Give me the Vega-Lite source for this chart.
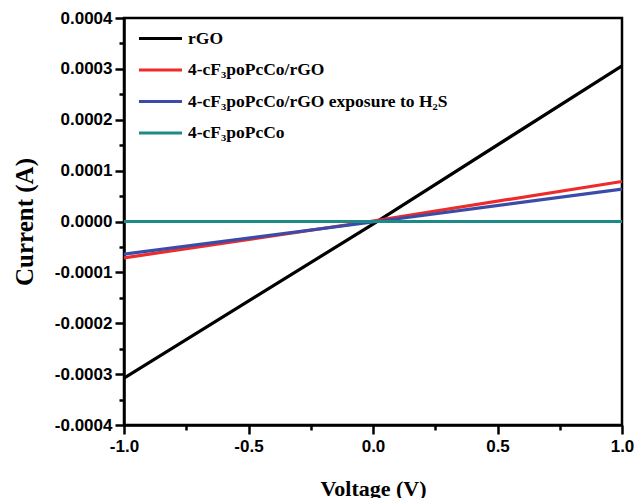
{
  "$schema": "https://vega.github.io/schema/vega-lite/v6.json",
  "width": 498,
  "height": 407,
  "autosize": {"type": "none"},
  "padding": {"left": 124, "top": 18, "right": 14, "bottom": 73},
  "background": "white",
  "config": {
    "view": {"stroke": "black", "strokeWidth": 2.5},
    "axis": {
      "domainColor": "black",
      "domainWidth": 2.5,
      "tickColor": "black",
      "tickWidth": 2.5,
      "grid": false,
      "labelFont": "Liberation Sans",
      "labelFontWeight": "bold",
      "labelFontSize": 17,
      "labelColor": "black",
      "titleFont": "Liberation Serif",
      "titleFontWeight": "bold",
      "titleColor": "black"
    },
    "legend": {
      "labelFont": "Liberation Serif",
      "labelFontWeight": "bold",
      "labelFontSize": 17.5,
      "labelColor": "black"
    }
  },
  "data": {
    "values": [
      {"series": "rGO", "voltage": -1, "current": -0.000308},
      {"series": "rGO", "voltage": 0, "current": -0.000005},
      {"series": "rGO", "voltage": 1, "current": 0.000306},
      {"series": "4-cF₃poPcCo/rGO", "voltage": -1, "current": -0.0000715},
      {"series": "4-cF₃poPcCo/rGO", "voltage": 0, "current": 0.000001},
      {"series": "4-cF₃poPcCo/rGO", "voltage": 1, "current": 0.0000787},
      {"series": "4-cF₃poPcCo/rGO exposure to H₂S", "voltage": -1, "current": -0.000064},
      {"series": "4-cF₃poPcCo/rGO exposure to H₂S", "voltage": 0, "current": -0.000001},
      {"series": "4-cF₃poPcCo/rGO exposure to H₂S", "voltage": 1, "current": 0.0000636},
      {"series": "4-cF₃poPcCo", "voltage": -1, "current": 0},
      {"series": "4-cF₃poPcCo", "voltage": 0, "current": 0},
      {"series": "4-cF₃poPcCo", "voltage": 1, "current": 0}
    ]
  },
  "mark": {"type": "line", "strokeWidth": 3.2, "clip": true},
  "encoding": {
    "x": {
      "field": "voltage",
      "type": "quantitative",
      "scale": {"domain": [-1, 1], "nice": false, "zero": false},
      "axis": {
        "title": "Voltage (V)",
        "titleFontSize": 22,
        "titlePadding": 24,
        "values": [-1, -0.75, -0.5, -0.25, 0, 0.25, 0.5, 0.75, 1],
        "labelExpr": "abs(datum.value*2 - round(datum.value*2)) < 0.001 ? replace(format(datum.value, '.1f'), '−', '-') : ''",
        "tickSize": {"condition": {"test": "abs(datum.value*2 - round(datum.value*2)) < 0.001", "value": 9}, "value": 5},
        "labelPadding": 4,
        "labelFlush": false,
        "labelOverlap": false
      }
    },
    "y": {
      "field": "current",
      "type": "quantitative",
      "scale": {"domain": [-0.0004, 0.0004], "nice": false, "zero": false},
      "axis": {
        "title": "Current (A)",
        "titleFontSize": 25,
        "titlePadding": 17,
        "values": [-0.0004, -0.00035, -0.0003, -0.00025, -0.0002, -0.00015, -0.0001, -0.00005, 0, 0.00005, 0.0001, 0.00015, 0.0002, 0.00025, 0.0003, 0.00035, 0.0004],
        "labelExpr": "abs(datum.value*10000 - round(datum.value*10000)) < 0.001 ? replace(format(datum.value, '.4f'), '−', '-') : ''",
        "tickSize": {"condition": {"test": "abs(datum.value*10000 - round(datum.value*10000)) < 0.001", "value": 9}, "value": 5},
        "labelPadding": 3,
        "labelFlush": false,
        "labelOverlap": false
      }
    },
    "color": {
      "field": "series",
      "type": "nominal",
      "scale": {
        "domain": ["rGO", "4-cF₃poPcCo/rGO", "4-cF₃poPcCo/rGO exposure to H₂S", "4-cF₃poPcCo"],
        "range": ["#000000", "#ee2b2b", "#3b4ca8", "#1c8a88"]
      },
      "legend": {
        "title": null,
        "orient": "none",
        "legendX": 26,
        "legendY": 10,
        "padding": 0,
        "symbolType": "M-2.5,0H2.5",
        "symbolSize": 296,
        "symbolStrokeWidth": 3,
        "labelOffset": 17,
        "rowPadding": 12.5,
        "labelLimit": 0
      }
    }
  }
}
